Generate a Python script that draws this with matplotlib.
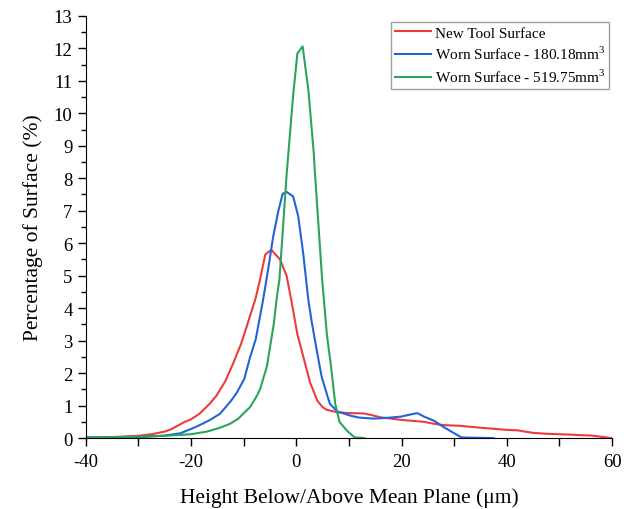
import numpy as np
import matplotlib.pyplot as plt
from matplotlib.ticker import MultipleLocator

# ------------------------------------------------------------
# DATA
# ------------------------------------------------------------
new_x = [-40, -35, -32.6, -30, -27.5, -25, -23.7, -21.2, -20, -18.4, -16.5, -15.2,
         -13.5, -12, -10.5, -9.5, -7.8, -7.0, -5.9, -4.75, -3.1, -1.85, -0.9, 0.2,
         1.5, 2.6, 4.0, 5.0, 5.8, 7.7, 10, 12.8, 14, 16, 20, 24.3, 26.2, 28, 31,
         35, 38, 40.3, 42, 45, 48, 51.8, 54, 56, 58, 60]
new_y = [0.02, 0.03, 0.05, 0.07, 0.12, 0.20, 0.28, 0.50, 0.58, 0.75, 1.05, 1.30,
         1.75, 2.3, 2.9, 3.4, 4.27, 4.8, 5.65, 5.8, 5.5, 5.0, 4.2, 3.2,
         2.4, 1.72, 1.15, 0.95, 0.87, 0.80, 0.77, 0.76, 0.72, 0.64, 0.56, 0.50, 0.44, 0.40, 0.38,
         0.32, 0.28, 0.25, 0.24, 0.16, 0.13, 0.11, 0.09, 0.08, 0.04, 0.0]

w180_x = [-40, -30, -25, -22, -19, -16.5, -14.5, -12.4, -11.3, -9.9, -8.8, -7.7,
          -6.3, -5.35, -4.4, -3.4, -2.6, -1.85, -0.6, 0.36, 1.3, 2.27, 2.9, 4.0,
          4.8, 5.9, 6.4, 7.8, 10.5, 12, 14.7, 17, 19.8, 21.5, 23, 24.3, 26.2, 28.1,
          30, 31.4, 37.5]
w180_y = [0.01, 0.03, 0.08, 0.15, 0.35, 0.55, 0.75, 1.15, 1.4, 1.82, 2.48, 3.05,
          4.27, 5.2, 6.2, 7.0, 7.52, 7.58, 7.44, 6.83, 5.7, 4.27, 3.6, 2.6,
          1.9, 1.3, 1.05, 0.82, 0.68, 0.63, 0.60, 0.62, 0.66, 0.72, 0.77, 0.66, 0.53, 0.33,
          0.15, 0.02, 0.0]

w519_x = [-40, -30, -25, -20, -17, -14.5, -12.6, -11, -9.8, -8.8, -7.5, -6.9,
          -5.6, -5.0, -4.3, -3.75, -3.2, -1.85, -0.6, 0.2, 1.2, 2.3, 3.3, 3.5,
          4.9, 5.8, 6.6, 7.4, 8.2, 9.5, 10.5, 11.1, 13]
w519_y = [0.02, 0.04, 0.07, 0.12, 0.20, 0.32, 0.44, 0.60, 0.80, 0.95, 1.3, 1.5,
          2.2, 2.8, 3.5, 4.27, 4.9, 8.1, 10.56, 11.84, 12.06, 10.7, 8.8, 8.26,
          4.9, 3.2, 2.2, 1.05, 0.5, 0.25, 0.1, 0.02, 0.0]

labels = ['New Tool Surface', 'Worn Surface - 180.18mm$^3$', 'Worn Surface - 519.75mm$^3$']
colors = ['#EC3B3F', '#2264D8', '#2BA35C']

# ------------------------------------------------------------
# PLOT
# ------------------------------------------------------------
plt.rcParams['font.family'] = 'Liberation Serif'
plt.rcParams['mathtext.fontset'] = 'custom'
plt.rcParams['mathtext.rm'] = 'Liberation Serif'
plt.rcParams['axes.unicode_minus'] = False

fig = plt.figure(figsize=(6.31, 5.10), dpi=100)
ax = fig.add_axes([0.136, 0.139, 0.834, 0.828])

ax.plot(new_x, new_y, color=colors[0], linewidth=1.5, label=labels[0])
ax.plot(w180_x, w180_y, color=colors[1], linewidth=1.5, label=labels[1])
ax.plot(w519_x, w519_y, color=colors[2], linewidth=1.5, label=labels[2])

ax.set_xlim(-40, 60)
ax.set_ylim(0, 13)
ax.xaxis.set_major_locator(MultipleLocator(20))
ax.xaxis.set_minor_locator(MultipleLocator(10))
ax.yaxis.set_major_locator(MultipleLocator(1))
ax.yaxis.set_minor_locator(MultipleLocator(0.5))
ax.tick_params(which='major', direction='out', length=6, width=1, labelsize=13.5)
ax.tick_params(axis='x', which='major', pad=5)
ax.tick_params(axis='x', which='minor', direction='out', length=6, width=1)
ax.tick_params(axis='y', which='minor', direction='out', length=3.5, width=1)

ax.spines['top'].set_visible(False)
ax.spines['right'].set_visible(False)

ax.set_xlabel('Height Below/Above Mean Plane (\u03bcm)', fontsize=15.5, labelpad=12)
ax.set_ylabel('Percentage of Surface (%)', fontsize=15.5, labelpad=8)

leg = ax.legend(loc='upper right', bbox_to_anchor=(0.994, 0.985), fontsize=11,
                fancybox=False, edgecolor='#888888', handlelength=2.35,
                borderpad=0.25, labelspacing=0.35, handletextpad=0.25,
                borderaxespad=0.0)
leg.get_frame().set_linewidth(1)

plt.savefig('out.png', dpi=100)
